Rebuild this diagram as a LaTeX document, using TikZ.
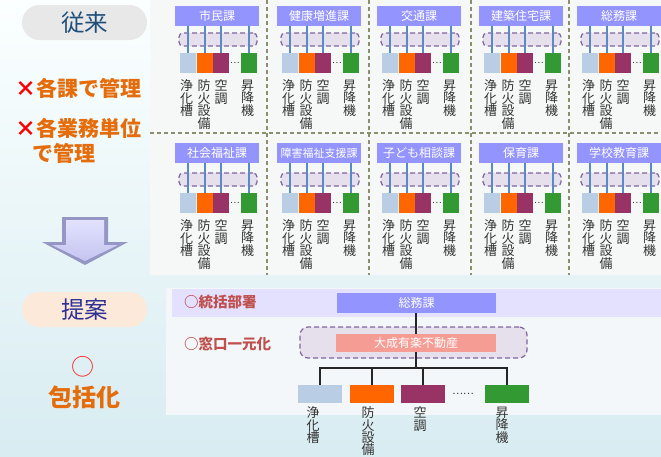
\documentclass[tikz,border=0pt]{standalone}
\usepackage{fontspec}
\setmainfont{Noto Sans CJK JP}
\definecolor{deptblue}{HTML}{9494FF}
\definecolor{cA}{HTML}{B9CDE5}
\definecolor{cB}{HTML}{FF6600}
\definecolor{cC}{HTML}{993366}
\definecolor{cD}{HTML}{339933}
\definecolor{grpfill}{HTML}{E6E0EC}
\definecolor{grpline}{HTML}{8064A2}
\definecolor{linkblue}{HTML}{5A8AC6}
\definecolor{sepcol}{HTML}{8C8F6E}
\definecolor{labgray}{HTML}{333333}
\definecolor{orangetxt}{HTML}{E46C0A}
\definecolor{redtxt}{HTML}{C0504D}
\definecolor{navytxt}{HTML}{1F4E79}
\definecolor{indigotxt}{HTML}{2E3192}
\definecolor{salmon}{HTML}{F59D95}
\newcommand\DeptCol[6]{%
  \node[grp, minimum width=78pt, minimum height=13pt] (g#1) at (#2+43, #6-13.5) {};
  \node[dept, font=\fontsize{#4}{#4}\selectfont] (t#1) at (#2+42, #5) {#3};
  \node[eq, fill=cA] (a#1) at (#2+13, #6+10) {};
  \node[eq, fill=cB] (b#1) at (#2+30, #6+10) {};
  \node[eq, fill=cC] (c#1) at (#2+46, #6+10) {};
  \node[eq, fill=cD] (d#1) at (#2+74, #6+10) {};
  \node[font=\fontsize{9}{9}\selectfont, text=labgray] (e#1) at (#2+60, #6+10) {…};
  \draw[link] (t#1.south -| a#1.north) -- (a#1.north);
  \draw[link] (t#1.south -| b#1.north) -- (b#1.north);
  \draw[link] (t#1.south -| c#1.north) -- (c#1.north);
  \draw[link] (t#1.south -| d#1.north) -- (d#1.north);
  \node[vlab] (la#1) at (#2+11.5, #6+27) {浄\\化\\槽};
  \node[vlab] (lb#1) at (#2+29, #6+27) {防\\火\\設\\備};
  \node[vlab] (lc#1) at (#2+46, #6+27) {空\\調};
  \node[vlab] (ld#1) at (#2+72.5, #6+27) {昇\\降\\機};
}
\begin{document}
\begin{tikzpicture}[x=1pt,y=-1pt,
  every node/.style={inner sep=0pt, outer sep=0pt},
  dept/.style={fill=deptblue, text=white, minimum width=84pt, minimum height=20pt},
  grp/.style={draw=grpline, dash pattern=on 5pt off 3pt, line width=1.2pt, fill=grpfill, rounded corners=4pt},
  eq/.style={minimum width=16pt, minimum height=20pt},
  link/.style={draw=linkblue, line width=1.1pt},
  vlab/.style={align=center, anchor=north, font=\fontsize{13}{12.5}\selectfont, text=labgray},
  sep/.style={draw=sepcol, line width=1.1pt, dash pattern=on 4pt off 3pt},
  pill/.style={minimum width=125pt, minimum height=35pt, rounded corners=17.5pt, font=\fontsize{23.5}{23.5}\selectfont},
  tree/.style={draw=black!85, line width=1.3pt},
  beq/.style={minimum width=44pt, minimum height=18pt},
  blab/.style={align=center, anchor=north, font=\fontsize{13}{12.3}\selectfont, text=labgray},
  sidelab/.style={anchor=west, text=redtxt, font=\fontsize{14.5}{14.5}\selectfont\bfseries},
  mtext/.style={anchor=west, text=orangetxt, font=\fontsize{21}{21}\selectfont\bfseries},
]
\useasboundingbox (0,0) rectangle (661,456);
% background
\shade[top color=white!60!cyan!4, bottom color={rgb,255:red,216;green,236;blue,241}] (0,0) rectangle (661,456);
% top panel
\fill[fill={rgb,255:red,246;green,247;blue,247}] (150,0) rectangle (661,275);
\draw[sep] (267,0) -- (267,275);
\draw[sep] (369,0) -- (369,275);
\draw[sep] (471,0) -- (471,275);
\draw[sep] (569,0) -- (569,275);
\draw[sep] (150,133) -- (661,133);
% row 1
\DeptCol{1}{175}{市民課}{12}{16}{53}
\DeptCol{2}{277}{健康増進課}{12}{16}{53}
\DeptCol{3}{377}{交通課}{12}{16}{53}
\DeptCol{4}{479}{建築住宅課}{12}{16}{53}
\DeptCol{5}{577}{総務課}{12}{16}{53}
% row 2
\DeptCol{6}{175}{社会福祉課}{12}{153}{193}
\DeptCol{7}{277}{障害福祉支援課}{11}{153}{193}
\DeptCol{8}{377}{子ども相談課}{12}{153}{193}
\DeptCol{9}{479}{保育課}{12}{153}{193}
\DeptCol{10}{577}{学校教育課}{12}{153}{193}
% left side
\node[pill, fill={rgb,255:red,232;green,232;blue,232}, text=navytxt] (conv) at (84.5,22.5) {従来};
\node[mtext] (m1) at (15,88) {\textcolor{red}{×}各課で管理};
\node[mtext] (m2) at (15,128) {\textcolor{red}{×}各業務単位};
\node[mtext] (m3) at (32,153) {で管理};
% arrow
\fill[fill={rgb,255:red,150;green,150;blue,196}] (62,217) -- (108,217) -- (108,242) -- (128,242) -- (85,265) -- (42,242) -- (62,242) -- cycle;
\shade[top color={rgb,255:red,226;green,226;blue,255}, bottom color={rgb,255:red,196;green,196;blue,240}] (66,220) -- (104,220) -- (104,245) -- (118,245) -- (85,261) -- (52,245) -- (66,245) -- cycle;
\node[pill, fill={rgb,255:red,253;green,233;blue,217}, text=indigotxt] (prop) at (84.5,309.5) {提案};
\node[text=red!85, font=\fontsize{23}{23}\selectfont] (okmark) at (83,367) {○};
\node[text=orangetxt, font=\fontsize{24}{24}\selectfont\bfseries] (incl) at (84,397) {包括化};
% bottom panel
\fill[fill={rgb,255:red,243;green,247;blue,249}] (166,288) rectangle (661,415);
\fill[fill={rgb,255:red,227;green,225;blue,255}] (172,289) rectangle (661,317);
\node[sidelab] (s1) at (184,302) {○統括部署};
\node[sidelab] (s2) at (184,344) {○窓口一元化};
\node[grp, minimum width=227pt, minimum height=31pt, rounded corners=8pt] (win) at (413.5,342.5) {};
\node[fill=deptblue, text=white, minimum width=159pt, minimum height=20pt, font=\fontsize{12}{12}\selectfont] (gen) at (416.5,303) {総務課};
\node[fill=salmon, text=white, minimum width=160pt, minimum height=18pt, font=\fontsize{12}{12}\selectfont] (tai) at (416,343) {大成有楽不動産};
\node[beq, fill=cA] (q1) at (320,394) {};
\node[beq, fill=cB] (q2) at (372,394) {};
\node[beq, fill=cC] (q3) at (423,394) {};
\node[beq, fill=cD] (q4) at (507,394) {};
\node[font=\fontsize{10}{10}\selectfont, text=labgray] (qd) at (463,394) {……};
\coordinate (hub) at (416,368);
\draw[tree] (gen.south -| tai.north) -- (tai.north);
\draw[tree] (tai.south) -- (hub);
\draw[tree] (hub) -| (q1.north);
\draw[tree] (hub) -| (q2.north);
\draw[tree] (hub) -| (q3.north);
\draw[tree] (hub) -| (q4.north);
\node[blab] (r1) at (313,407) {浄\\化\\槽};
\node[blab] (r2) at (368,407) {防\\火\\設\\備};
\node[blab] (r3) at (420,407) {空\\調};
\node[blab] (r4) at (502,407) {昇\\降\\機};
\end{tikzpicture}
\end{document}
